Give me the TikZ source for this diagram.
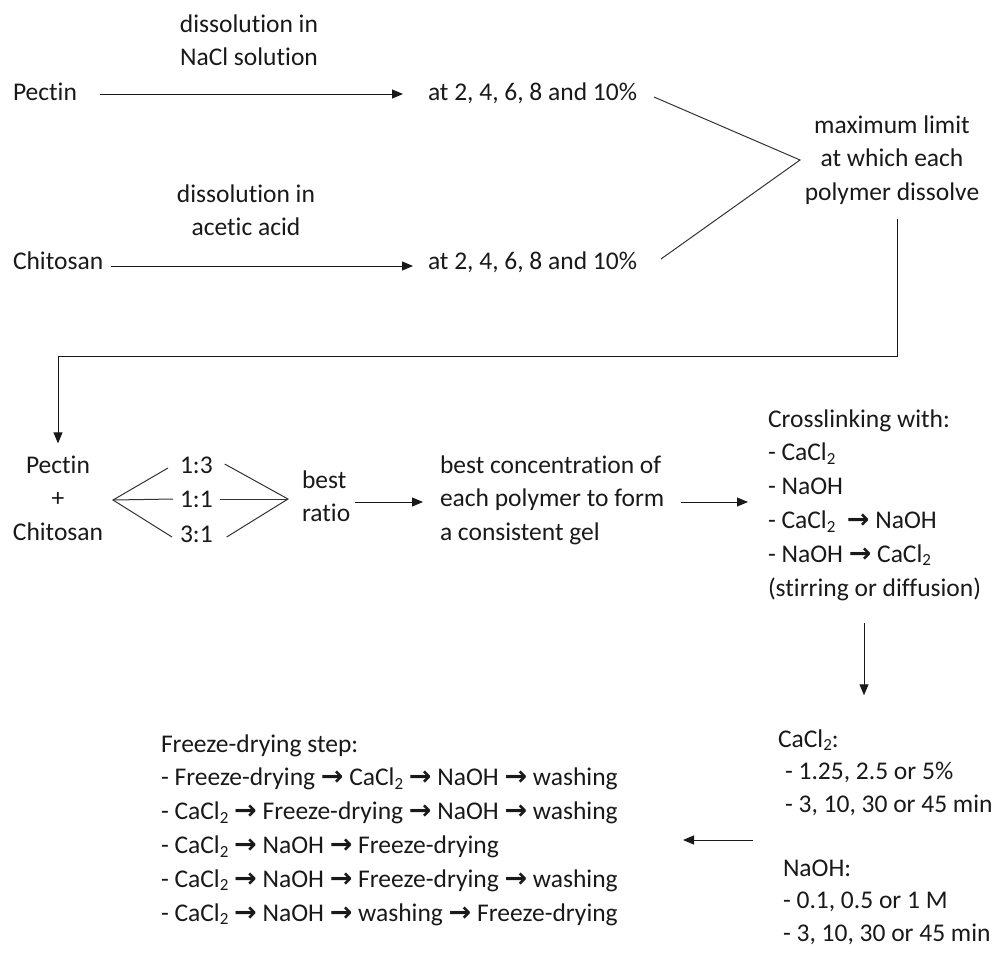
\documentclass[tikz,border=0pt]{standalone}
\usepackage{fontspec}
\setmainfont{Carlito}[Ligatures=NoCommon]
\newfontfamily\symfont{DejaVu Sans}
\usetikzlibrary{arrows.meta}
\newcommand\two{\raisebox{-0.3ex}{\fontsize{17}{17}\selectfont 2}}
\newcommand\rarr{{\symfont\bfseries\fontsize{27}{27}\selectfont →}}
\tikzset{
  txt/.style={font=\fontsize{25.5}{33.8}\selectfont, inner sep=0pt, outer sep=0pt, text=black!90},
  blk/.style={txt, align=left, anchor=north west},
  blkc/.style={txt, align=center, anchor=north},
  blktwo/.style={blk, font=\fontsize{25.5}{32.5}\selectfont},
  arr/.style={-{Triangle[length=11pt,width=9pt]}, line width=1pt, black!90},
  ln/.style={line width=1pt, black!80},
}
\begin{document}
\begin{tikzpicture}[x=1pt,y=-1pt]
\useasboundingbox (0,0) rectangle (995,956);

% top part
\node[blkc] (dis1) at (249,8.34) {\strut dissolution in\\NaCl solution\strut};
\node[txt, anchor=base west] (pec) at (13,100) {Pectin};
\node[txt, anchor=base west] (at1) at (428,100) {at 2, 4, 6, 8 and 10\%};
\node[blkc] (dis2) at (246,178.34) {\strut dissolution in\\acetic acid\strut};
\node[txt, anchor=base west] (chi) at (13,269) {Chitosan};
\node[txt, anchor=base west] (at2) at (428,269) {at 2, 4, 6, 8 and 10\%};
\node[blkc] (max) at (892,109.34) {\strut maximum limit\\at which each\\polymer dissolve\strut};
\coordinate (apex) at (800,160);
\coordinate (c1) at (897,219);

% middle row
\node[blkc] (pm) at (58,449.34) {\strut Pectin\\+\\Chitosan\strut};
\coordinate (fa) at (113,500);
\node[txt, anchor=base west] (r13) at (180,473) {1:3};
\node[txt, anchor=base west] (r11) at (180,507) {1:1};
\node[txt, anchor=base west] (r31) at (180,542) {3:1};
\coordinate (fb) at (288,499);
\node[blk] (best) at (302,464.34) {\strut best\\ratio\strut};
\node[blk] (conc) at (440,449.34) {\strut best concentration of\\each polymer to form\\a consistent gel\strut};
\node[blk] (cross) at (768,403.34) {\strut Crosslinking with:\\- CaCl\two\\- NaOH\\- CaCl\two~ \rarr{} NaOH\\- NaOH \rarr{} CaCl\two\\(stirring or diffusion)\strut};
\coordinate (row) at (0,502);
\coordinate (vx) at (864,0);

% bottom part
\node[blktwo] (ca) at (778,724.25) {\strut CaCl\two:\\\hspace*{7pt}- 1.25, 2.5 or 5\%\\\hspace*{7pt}- 3, 10, 30 or 45 min\strut};
\node[blktwo] (naoh) at (783,853.25) {\strut NaOH:\\- 0.1, 0.5 or 1 M\\- 3, 10, 30 or 45 min\strut};
\node[blk] (fd) at (161,728.34) {\strut Freeze-drying step:\\
- Freeze-drying \rarr{} CaCl\two{} \rarr{} NaOH \rarr{} washing\\
- CaCl\two{} \rarr{} Freeze-drying \rarr{} NaOH \rarr{} washing\\
- CaCl\two{} \rarr{} NaOH \rarr{} Freeze-drying\\
- CaCl\two{} \rarr{} NaOH \rarr{} Freeze-drying \rarr{} washing\\
- CaCl\two{} \rarr{} NaOH \rarr{} washing \rarr{} Freeze-drying\strut};
\coordinate (lrow) at (0,840);
\coordinate (ltip) at (683,840);

% connectors
\draw[arr] ([xshift=23pt,yshift=6pt]pec.base east) -- ([xshift=-25pt,yshift=6pt]at1.base west);
\draw[arr] ([xshift=8pt,yshift=3pt]chi.base east) -- ([xshift=-15pt,yshift=3pt]at2.base west);
\draw[ln] ([xshift=17pt,yshift=3pt]at1.base east) -- (apex) -- ([xshift=24pt,yshift=10pt]at2.base east);
\draw[arr] (c1) -- ++(0,137) -| ([yshift=6pt]pm.north);

\draw[ln] ([xshift=-12pt,yshift=5pt]r13.base west) -- (fa) -- ([xshift=-8pt,yshift=5pt]r31.base west);
\draw[ln] (fa) -- ([xshift=-7pt,yshift=8pt]r11.base west);
\draw[ln] ([xshift=12pt,yshift=9pt]r13.base east) -- (fb) -- ([xshift=14pt,yshift=5pt]r31.base east);
\draw[ln] ([xshift=7pt,yshift=8pt]r11.base east) -- (fb);

\draw[arr] ([xshift=5pt]best.east |- row) -- ([xshift=-17pt]conc.west |- row);
\draw[arr] ([xshift=17pt]conc.east |- row) -- ([xshift=-20pt]cross.west |- row);
\draw[arr] ([yshift=-17pt]cross.south -| vx) -- ([yshift=29pt]ca.north -| vx);
\draw[arr] ([xshift=-25pt]ca.west |- lrow) -- (ltip);
\end{tikzpicture}
\end{document}
